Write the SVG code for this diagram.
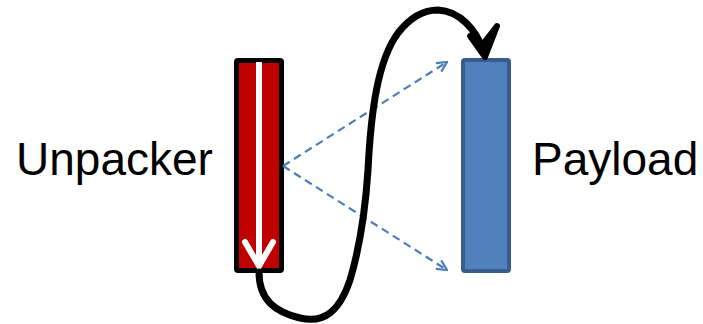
<svg xmlns="http://www.w3.org/2000/svg" width="703" height="324" viewBox="0 0 703 324">
<style>
.lbl{font-family:"Liberation Sans",Arial,sans-serif;font-size:46px;fill:#000}
.dash{fill:none;stroke:#4A7EBB;stroke-width:2.2;stroke-dasharray:8,5}
</style>
<defs>
<marker id="open" viewBox="0 0 12 12" refX="11" refY="6" markerWidth="12" markerHeight="12" markerUnits="userSpaceOnUse" orient="auto">
<path d="M1,1 L11,6 L1,11" fill="none" stroke="#4A7EBB" stroke-width="2.2"/>
</marker>
</defs>
<rect width="703" height="324" fill="#fff"/>
<g id="unpacker">
<rect x="236.5" y="60.5" width="45" height="210" rx="1.5" fill="#C00000" stroke="#000" stroke-width="5"/>
<line x1="259" y1="62" x2="259" y2="266" stroke="#fff" stroke-width="6"/>
<path d="M245,242 L259,266 L273,242" fill="none" stroke="#fff" stroke-width="6" stroke-linecap="round"/>
<text class="lbl" x="16" y="175">Unpacker</text>
</g>
<g id="payload">
<rect x="463" y="60" width="46" height="211" rx="2" fill="#4F81BD" stroke="#385D8A" stroke-width="4"/>
<text class="lbl" x="532" y="175">Payload</text>
</g>
<g id="connectors">
<path class="dash" d="M283,166 L447,62" marker-end="url(#open)"/>
<path class="dash" d="M283,166 L447,270" marker-end="url(#open)"/>
<path d="M259,272 C259,300 275,312 300,318 C325,324 340,310 350,280 C362,240 366,200 368,170 C371,110 378,60 398,33 C412,15 425,10 438,10 C460,11 476,30 483,50" fill="none" stroke="#000" stroke-width="7" stroke-linecap="round"/>
<path d="M470,36 L485,57 L497,26 L483,44 Z" fill="#000" stroke="#000" stroke-width="6" stroke-linecap="round" stroke-linejoin="round"/>
</g>
</svg>
